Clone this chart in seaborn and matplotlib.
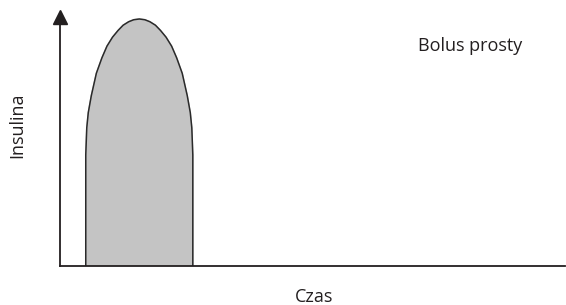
import matplotlib
matplotlib.use("Agg")
import matplotlib.pyplot as plt
import seaborn as sns
import pandas as pd

# Outline of the simple bolus (time vs insulin)
time = [5.1, 5.1, 5.3, 5.6, 6.2, 7.2, 8.3, 9.3, 10.4, 11.5, 12.5, 13.6, 14.6, 15.7,
        16.8, 17.8, 18.9, 19.9, 21.0, 22.1, 23.1, 24.2, 25.2, 25.8, 26.1, 26.3, 26.3]
insulin = [0, 44.6, 55.5, 61.6, 68.4, 77.4, 83.6, 88.3, 91.9, 94.6, 96.7, 98.1, 98.9, 99.2,
           98.9, 98.1, 96.7, 94.6, 91.9, 88.3, 83.6, 77.4, 68.4, 61.6, 55.5, 44.6, 0]
title = "Bolus prosty"
x_label = "Czas"
y_label = "Insulina"

df = pd.DataFrame({"czas": time, "insulina": insulin})

sns.set_style("white")
plt.rcParams["font.family"] = ["Open Sans", "DejaVu Sans"]
ink = "#231f20"

fig = plt.figure(figsize=(5.66, 3.05), dpi=100)
ax = fig.add_axes([60 / 566, 39 / 305, 505 / 566, 249 / 305])

ax.fill(df["czas"], df["insulina"], color="#c4c4c4", zorder=1)
sns.lineplot(data=df, x="czas", y="insulina", sort=False, estimator=None,
             color="#2a2a2a", linewidth=1.1, ax=ax, zorder=2)

ax.set_xlim(0, 100)
ax.set_ylim(0, 100)
ax.set_xticks([])
ax.set_yticks([])
for side in ["top", "right"]:
    ax.spines[side].set_visible(False)
for side in ["left", "bottom"]:
    ax.spines[side].set_color(ink)
    ax.spines[side].set_linewidth(1.3)

# arrow head on the y axis
ax.plot([0], [1], marker="^", markersize=9.5, color=ink, transform=ax.transAxes,
        clip_on=False, zorder=5)

ax.set_xlabel(x_label, fontsize=13, color=ink, va="center")
ax.set_ylabel(y_label, fontsize=13, color=ink, va="center")
ax.xaxis.set_label_coords(0.504, -0.124)
ax.yaxis.set_label_coords(-0.085, 0.566)
ax.text(0.812, 0.884, title, transform=ax.transAxes, fontsize=13, color=ink,
        ha="center", va="center")

fig.savefig("out.png", dpi=100)
